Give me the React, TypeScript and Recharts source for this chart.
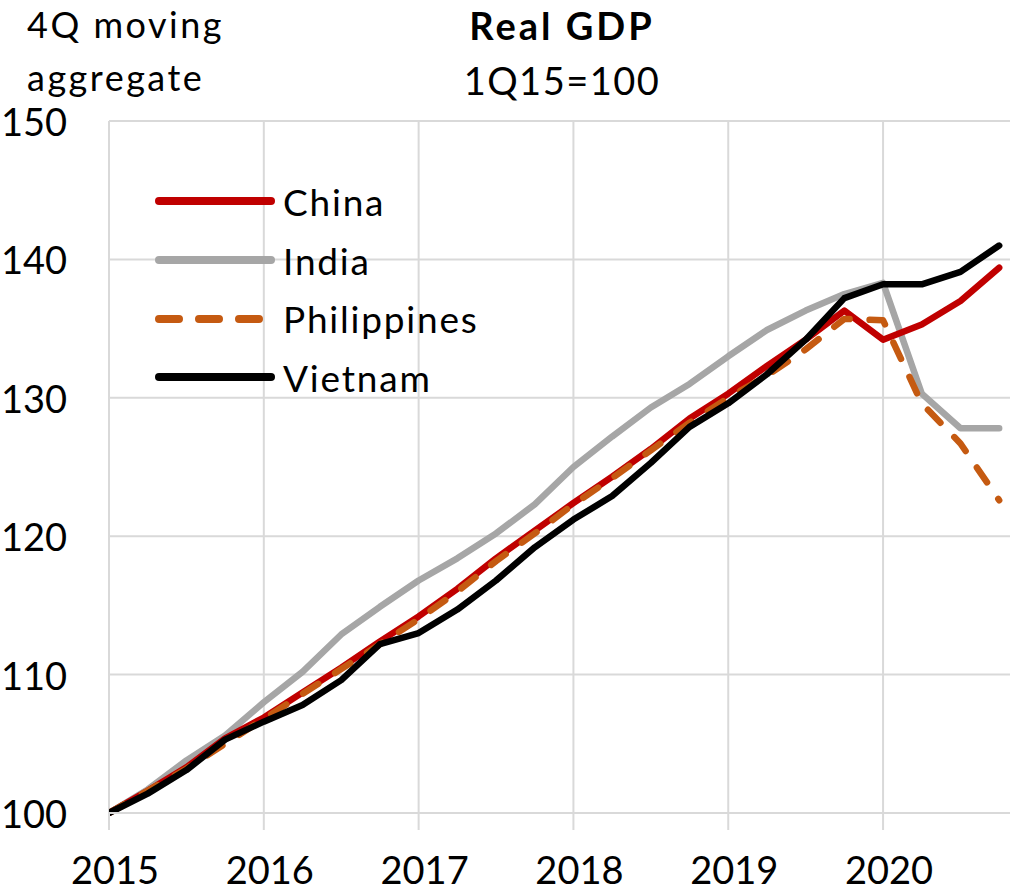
import React from 'react';
import { LineChart, Line, XAxis, YAxis, CartesianGrid, ReferenceLine } from 'recharts';

const quarters = [
    '1Q15', '2Q15', '3Q15', '4Q15', '1Q16', '2Q16', '3Q16', '4Q16',
    '1Q17', '2Q17', '3Q17', '4Q17', '1Q18', '2Q18', '3Q18', '4Q18',
    '1Q19', '2Q19', '3Q19', '4Q19', '1Q20', '2Q20', '3Q20', '4Q20',
];
const yearLabels = ['2015', '2016', '2017', '2018', '2019', '2020'];
const yearTicks = [0, 4, 8, 12, 16, 20];
const valueTicks = [100, 110, 120, 130, 140, 150];

const china = [
    100, 101.6, 103.3, 105.4, 106.9, 108.7, 110.5, 112.4,
    114.2, 116.2, 118.4, 120.4, 122.4, 124.3, 126.3, 128.5,
    130.3, 132.3, 134.2, 136.3, 134.2, 135.3, 137.0, 139.4,
];
const india = [
    100, 101.7, 103.8, 105.6, 108.0, 110.2, 112.9, 114.9,
    116.8, 118.4, 120.2, 122.3, 125.0, 127.2, 129.3, 131.0,
    133.0, 134.9, 136.3, 137.5, 138.3, 130.3, 127.8, 127.8,
];
const philippines = [
    100, 101.6, 103.2, 105.0, 106.8, 108.6, 110.4, 112.2,
    114.0, 116.0, 118.2, 120.2, 122.3, 124.2, 126.2, 128.2,
    130.0, 131.6, 133.5, 135.7, 135.6, 129.6, 126.7, 122.6,
];
const vietnam = [
    100, 101.4, 103.1, 105.3, 106.6, 107.8, 109.6, 112.2,
    113.0, 114.7, 116.8, 119.2, 121.2, 122.9, 125.3, 127.9,
    129.6, 131.7, 134.2, 137.2, 138.2, 138.2, 139.1, 141.0,
];

const data = quarters.map((q, i) => ({
    idx: i,
    quarter: q,
    China: china[i],
    India: india[i],
    Philippines: philippines[i],
    Vietnam: vietnam[i],
}));

// drawing order: India under the rest, Vietnam on top
const series = [
    { key: 'India', color: '#A6A6A6', dash: undefined },
    { key: 'China', color: '#C00000', dash: undefined },
    { key: 'Philippines', color: '#C55A11', dash: '18 20' },
    { key: 'Vietnam', color: '#000000', dash: undefined },
];
const legendOrder = ['China', 'India', 'Philippines', 'Vietnam'];

const FONT = 'Lato, "Open Sans", sans-serif';
const GRID = '#D9D9D9';

const YTick = (props: any) => (
    <text x={props.x} y={props.y} textAnchor="end" dominantBaseline="central"
        fontFamily={FONT} fontSize={38} fill="#000">
        {props.payload.value}
    </text>
);

// Excel puts the year labels a little right of the gridline
const XTick = (props: any) => (
    <text x={props.x + 6} y={props.y} textAnchor="middle" dy="0.71em"
        fontFamily={FONT} fontSize={38} fill="#000">
        {yearLabels[yearTicks.indexOf(props.payload.value)]}
    </text>
);

const Legend = () => (
    <div style={{ position: 'absolute', left: 153, top: 172 }}>
        {legendOrder.map((name) => {
            const s = series.find((x) => x.key === name)!;
            return (
                <div key={name} style={{ display: 'flex', alignItems: 'center', height: 58.7 }}>
                    <svg width={126} height={12}>
                        <line x1={6} y1={6} x2={118} y2={6} stroke={s.color} strokeWidth={8}
                            strokeLinecap="round" strokeDasharray={s.dash ? '20 20' : undefined} />
                    </svg>
                    <span style={{ fontFamily: FONT, fontSize: 37, letterSpacing: 1.8, marginLeft: 4 }}>{name}</span>
                </div>
            );
        })}
    </div>
);

const App: React.FC = () => (
    <div style={{ position: 'absolute', left: 0, top: 0, width: 1010, height: 893, background: '#fff' }}>
        <div style={{ position: 'absolute', left: 27, top: -2, fontFamily: FONT, fontSize: 36, letterSpacing: 2.5, lineHeight: '53px' }}>
            4Q moving<br />aggregate
        </div>
        <div style={{ position: 'absolute', left: 362, width: 400, top: -2, textAlign: 'center', fontFamily: FONT, fontSize: 38, lineHeight: '55px' }}>
            <b style={{ letterSpacing: 3 }}>Real GDP</b><br /><span style={{ letterSpacing: 1.5 }}>1Q15=100</span>
        </div>
        <LineChart width={1010} height={893} data={data}
            margin={{ top: 121, right: 0, left: 0, bottom: 0 }}
            style={{ position: 'absolute', left: 0, top: 0 }}>
            <CartesianGrid stroke={GRID} strokeWidth={2} vertical={false} horizontalValues={valueTicks} />
            {yearTicks.map((t) => (
                <ReferenceLine key={t} x={t} stroke={GRID} strokeWidth={2} />
            ))}
            <XAxis dataKey="idx" type="number" domain={[0, 23.28]} ticks={yearTicks}
                allowDataOverflow height={80} tickSize={17} tickMargin={27}
                axisLine={{ stroke: GRID, strokeWidth: 2 }}
                tickLine={{ stroke: GRID, strokeWidth: 2 }} tick={<XTick />} />
            <YAxis domain={[100, 150]} ticks={valueTicks} width={109} tickLine={false}
                axisLine={false} tickMargin={36} tick={<YTick />} />
            {series.map((s) => (
                <Line key={s.key} dataKey={s.key} type="linear" stroke={s.color} strokeWidth={6.5}
                    strokeDasharray={s.dash} strokeLinecap="round" strokeLinejoin="round"
                    dot={false} activeDot={false} isAnimationActive={false} />
            ))}
        </LineChart>
        <Legend />
    </div>
);

export default App;
